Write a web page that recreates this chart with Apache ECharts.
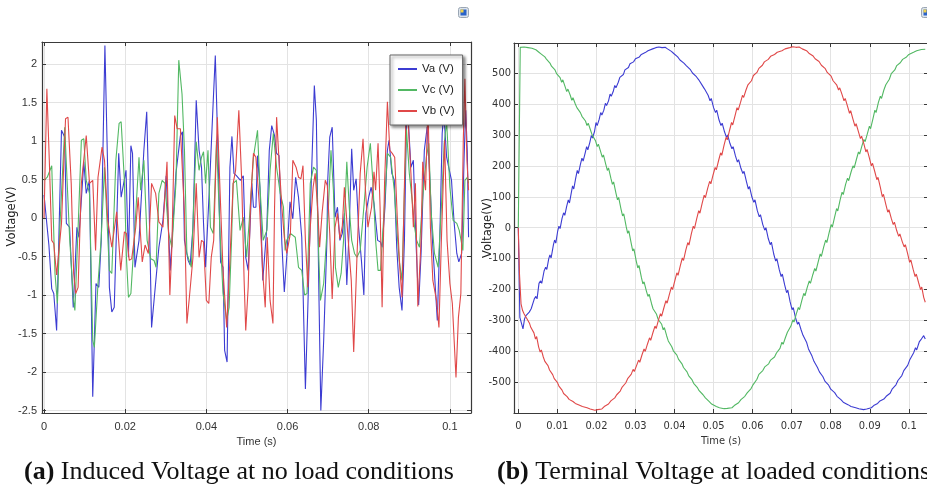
<!DOCTYPE html>
<html>
<head>
<meta charset="utf-8">
<script src="https://cdn.jsdelivr.net/npm/echarts@6/dist/echarts.min.js"></script>
<style>
  html, body { margin: 0; padding: 0; background: #fff; }
  #main { width: 927px; height: 500px; }
</style>
</head>
<body>
<div id="main"></div>
<script>
// (a) induced voltage at no load, [time (s), voltage (V)]
const vaNoLoad = [[0,0.3],[0.0012,-0.35],[0.0019,-0.92],[0.0024,-0.98],[0.0031,-1.46],[0.0043,1.14],[0.0051,1.05],[0.0055,-0.07],[0.0063,-0.12],[0.0072,-1.16],[0.0081,-0.12],[0.0086,-0.25],[0.0098,0.73],[0.0104,0.32],[0.0112,0.49],[0.012,-2.32],[0.0128,-0.85],[0.0135,-0.9],[0.0141,-0.29],[0.015,2.24],[0.0157,0.58],[0.0161,-0.9],[0.0167,-1.22],[0.0173,-1.16],[0.0184,0.84],[0.019,0.27],[0.0202,0.62],[0.0208,-0.51],[0.0214,0.94],[0.0218,0.84],[0.0224,-0.64],[0.0234,-0.29],[0.0246,0.88],[0.0253,1.38],[0.0259,0.14],[0.0265,-1.42],[0.0283,-0.38],[0.0293,-0.03],[0.0301,0.55],[0.0311,-0.68],[0.0325,0.58],[0.0336,1.07],[0.0341,1.12],[0.0346,-0.29],[0.0355,-0.55],[0.036,-0.61],[0.0367,-0.12],[0.0375,1.53],[0.0382,0.88],[0.0388,0.66],[0.0393,-0.07],[0.0398,-0.64],[0.0408,0.45],[0.0417,1.53],[0.0422,2.11],[0.0429,0.79],[0.0435,-0.57],[0.0441,-0.64],[0.0445,-1.72],[0.0451,-1.87],[0.0458,0.66],[0.0463,1.06],[0.0468,0.58],[0.0474,0.55],[0.0484,0.49],[0.0491,0.55],[0.0497,-0.51],[0.0503,-0.68],[0.0512,0.45],[0.0516,0.14],[0.0522,0.14],[0.0526,0.81],[0.0532,0.4],[0.0539,-0.81],[0.0549,-0.12],[0.0555,0.88],[0.0561,1.2],[0.0568,1.07],[0.0573,0.84],[0.0579,0.81],[0.0586,-0.33],[0.0592,-0.96],[0.0598,-0.51],[0.0606,0.21],[0.0613,-0.01],[0.062,0.53],[0.0627,0.27],[0.0635,-0.25],[0.0644,-2.22],[0.065,-1.16],[0.0658,0.38],[0.0666,1.72],[0.0671,1.27],[0.0677,-0.9],[0.0682,-2.5],[0.0689,-1.59],[0.0697,-0.29],[0.0699,0.49],[0.0704,1.05],[0.071,1.18],[0.0717,0.01],[0.0723,0.14],[0.0729,-0.29],[0.0735,-0.2],[0.074,0.06],[0.0746,-0.87],[0.0752,-0.12],[0.0758,0.9],[0.0763,0.36],[0.0769,0.51],[0.0775,-0.12],[0.0782,-0.55],[0.0788,-1.0],[0.0793,0.06],[0.08,0.27],[0.0806,0.4],[0.0813,0.19],[0.0817,0.21],[0.0822,-0.29],[0.0829,-0.31],[0.0833,-0.38],[0.084,0.14],[0.0846,0.88],[0.085,1.01],[0.0857,0.58],[0.0863,0.49],[0.0869,-0.38],[0.0875,-0.9],[0.0882,-1.2],[0.0888,-0.29],[0.0894,1.6],[0.0904,0.66],[0.091,0.75],[0.0917,-0.38],[0.0923,-1.13],[0.0929,-0.46],[0.0937,0.88],[0.0944,1.18],[0.095,0.58],[0.0957,-0.29],[0.0962,-0.72],[0.0969,-1.33],[0.0975,-0.29],[0.0981,1.1],[0.0985,1.36],[0.0992,0.79],[0.0997,0.66],[0.1004,0.49],[0.101,-0.03],[0.1017,-0.46],[0.1022,-0.57],[0.1029,-0.46],[0.1035,0.79],[0.1039,1.4],[0.1043,0.84],[0.1046,-0.25]];
const vcNoLoad = [[0,0.49],[0.0008,0.53],[0.0019,0.68],[0.0027,-0.72],[0.0033,-1.11],[0.0039,-0.12],[0.0051,1.18],[0.0063,-0.25],[0.0072,-1.03],[0.0076,-1.2],[0.0084,-0.12],[0.0092,1.01],[0.0098,1.03],[0.0104,0.49],[0.0112,0.32],[0.012,-1.59],[0.0124,-1.68],[0.0133,-0.85],[0.0141,-0.25],[0.0149,0.66],[0.0161,-0.68],[0.0167,-0.72],[0.0177,0.75],[0.0185,1.23],[0.019,1.25],[0.0198,0.49],[0.0203,-0.51],[0.0208,-1.03],[0.0214,-0.98],[0.0224,-0.12],[0.0234,0.79],[0.0238,0.36],[0.0246,0.75],[0.0254,-0.29],[0.0263,-0.53],[0.0271,-0.55],[0.0276,-0.64],[0.0283,0.32],[0.0291,0.49],[0.0298,0.45],[0.0307,-0.2],[0.0315,-0.38],[0.0325,0.45],[0.0332,2.05],[0.034,1.61],[0.0346,0.88],[0.0352,-0.46],[0.0363,-0.64],[0.0371,0.49],[0.0375,0.99],[0.0382,0.62],[0.0388,0.79],[0.0393,0.86],[0.0398,0.45],[0.0404,0.88],[0.041,-0.12],[0.0417,-0.2],[0.0425,1.01],[0.0433,-0.12],[0.0441,-0.98],[0.045,-1.33],[0.0456,-1.16],[0.0462,-0.29],[0.0466,0.45],[0.0474,0.49],[0.0483,-0.16],[0.0491,0.01],[0.0499,-0.51],[0.0507,0.06],[0.0516,0.79],[0.0526,1.14],[0.0532,0.4],[0.054,-0.29],[0.0549,-0.16],[0.0557,0.62],[0.0565,1.1],[0.0573,0.66],[0.0582,0.32],[0.059,0.14],[0.0594,-0.42],[0.0598,-0.29],[0.0607,-0.2],[0.0619,-0.25],[0.0627,-0.64],[0.0635,-0.68],[0.0642,-1.0],[0.0648,-0.98],[0.0656,0.45],[0.0664,0.66],[0.0671,0.62],[0.0677,-0.51],[0.0681,-1.07],[0.0689,-0.85],[0.07,0.06],[0.0707,0.88],[0.0713,0.36],[0.0718,-0.64],[0.0725,-0.9],[0.0732,-0.72],[0.0738,-0.29],[0.0746,0.73],[0.0752,0.14],[0.0758,-0.29],[0.0765,-0.46],[0.0771,-0.51],[0.0779,-0.42],[0.0788,0.14],[0.0796,0.66],[0.0804,0.97],[0.081,0.49],[0.0817,-0.29],[0.0823,-0.68],[0.0829,-0.68],[0.0838,0.1],[0.0846,0.84],[0.0854,0.79],[0.0863,0.36],[0.0869,-0.12],[0.0875,-0.55],[0.0882,-0.81],[0.0888,0.36],[0.0893,1.15],[0.09,0.58],[0.0907,0.23],[0.0913,-0.12],[0.0918,-0.29],[0.0925,-0.38],[0.0933,0.27],[0.0942,0.79],[0.0948,0.97],[0.0954,0.06],[0.0962,-0.46],[0.0971,-0.64],[0.0979,0.14],[0.0986,0.97],[0.0992,1.25],[0.1,0.4],[0.1008,-0.03],[0.1017,-0.07],[0.1023,-0.16],[0.1032,-0.42],[0.1037,0.49],[0.1043,0.53],[0.1046,0.45]];
const vbNoLoad = [[0,0],[0.0007,1.68],[0.0013,0.75],[0.0019,-0.29],[0.0024,-0.33],[0.0031,-0.74],[0.0035,-0.72],[0.0043,-0.07],[0.0053,1.29],[0.0059,1.31],[0.0067,0.45],[0.0073,-0.72],[0.0078,-0.98],[0.0084,-0.9],[0.0092,0.45],[0.0104,1.07],[0.0112,0.45],[0.012,0.49],[0.0127,-0.42],[0.0133,0.53],[0.0143,0.92],[0.0149,0.75],[0.0157,-0.03],[0.0167,-0.38],[0.0179,0.08],[0.0189,-0.68],[0.0198,-0.18],[0.0203,-0.2],[0.021,-0.55],[0.0216,-0.53],[0.0226,-0.12],[0.0232,0.27],[0.0242,-0.57],[0.0249,-0.35],[0.0257,-0.46],[0.0265,0.45],[0.0275,0.32],[0.0283,-0.05],[0.0293,-0.12],[0.0303,0.73],[0.031,-1.0],[0.0315,-0.38],[0.0322,1.33],[0.0328,1.16],[0.0336,1.16],[0.0346,0.06],[0.0352,-1.37],[0.0359,-0.98],[0.0367,-0.51],[0.0375,0.45],[0.0382,-0.51],[0.0388,-0.29],[0.0393,-0.31],[0.04,-1.07],[0.0406,-1.11],[0.0412,-0.51],[0.0418,-0.29],[0.0427,1.31],[0.0433,0.45],[0.0441,-0.68],[0.045,-1.42],[0.0458,-0.55],[0.0466,0.45],[0.0472,0.62],[0.048,1.4],[0.0487,0.49],[0.0493,-0.81],[0.0497,-1.46],[0.0503,-0.9],[0.0509,0.23],[0.0516,0.84],[0.0522,0.79],[0.0531,0.14],[0.0539,-0.72],[0.0545,-1.16],[0.055,-0.25],[0.0557,-1.07],[0.0564,-1.37],[0.0568,0.14],[0.0573,1.31],[0.0579,0.75],[0.0586,0.14],[0.0592,-0.25],[0.0598,-0.46],[0.0607,-0.2],[0.0613,0.75],[0.0621,0.66],[0.0627,0.53],[0.0633,0.51],[0.0638,0.68],[0.0644,-0.29],[0.065,-0.9],[0.0656,-0.12],[0.0663,0.4],[0.0668,0.58],[0.0674,0.14],[0.0679,-0.38],[0.0685,0.06],[0.0693,0.49],[0.0698,0.42],[0.0704,-0.2],[0.071,-1.05],[0.0717,-0.12],[0.0723,0.06],[0.0729,-0.27],[0.0735,-0.1],[0.074,0.4],[0.0748,-0.18],[0.0757,-0.81],[0.0763,-1.74],[0.0771,-0.51],[0.0779,0.58],[0.0786,1.03],[0.0792,0.36],[0.0798,-0.12],[0.0807,0.14],[0.0813,0.6],[0.0817,0.36],[0.0823,0.97],[0.0828,0.14],[0.0833,-1.16],[0.0839,0.45],[0.0846,1.51],[0.0852,0.88],[0.0858,0.84],[0.0864,0.79],[0.0871,-0.07],[0.0877,-0.68],[0.0882,-1.03],[0.0885,-0.29],[0.0893,1.65],[0.0904,0.58],[0.091,-0.12],[0.0915,0.45],[0.0921,-1.15],[0.0929,-0.29],[0.0933,0.73],[0.094,0.36],[0.0946,1.5],[0.0952,-0.12],[0.0958,-0.81],[0.0967,-1.07],[0.0973,-1.42],[0.0979,-0.29],[0.0987,1.01],[0.0993,-0.29],[0.1,-0.85],[0.1006,-1.11],[0.1015,-2.07],[0.1021,-1.29],[0.1027,-0.98],[0.1033,1.01],[0.1037,1.81],[0.1042,0.75],[0.1046,0.36]];

// (b) terminal voltage under load, [time (s), voltage (V)]
const vaLoaded = [[0,0],[0.0004,-290],[0.0012,-327],[0.0016,-295],[0.0019,-285],[0.0022,-290],[0.0028,-273],[0.0033,-262],[0.0036,-268],[0.0041,-230],[0.0045,-222],[0.0048,-230],[0.0053,-180],[0.0057,-172],[0.006,-180],[0.0066,-140],[0.007,-128],[0.0073,-135],[0.0078,-100],[0.0081,-88],[0.0084,-98],[0.009,-55],[0.0093,-40],[0.0096,-50],[0.0101,-10],[0.0104,5],[0.0107,-3],[0.0112,30],[0.0116,48],[0.0119,40],[0.0124,70],[0.0128,90],[0.0131,80],[0.0136,115],[0.0139,135],[0.0142,125],[0.0147,160],[0.0151,185],[0.0154,175],[0.0159,205],[0.0163,225],[0.0166,215],[0.0171,240],[0.0175,262],[0.0178,252],[0.0183,275],[0.0187,298],[0.019,290],[0.0195,310],[0.0199,340],[0.0202,330],[0.0207,350],[0.0211,372],[0.0214,364],[0.0219,380],[0.0223,402],[0.0226,395],[0.0231,410],[0.0235,432],[0.0238,425],[0.0243,440],[0.0247,460],[0.025,452],[0.0256,470],[0.026,486],[0.0263,480],[0.0269,495],[0.0273,510],[0.0276,504],[0.0282,518],[0.0286,530],[0.0289,524],[0.0295,536],[0.03,546],[0.0303,541],[0.031,552],[0.0315,560],[0.0318,556],[0.0325,566],[0.0332,572],[0.0336,569],[0.0344,578],[0.0352,582],[0.036,584],[0.0368,582],[0.0376,583],[0.0382,578],[0.0386,580],[0.0392,570],[0.0398,563],[0.0401,566],[0.0408,552],[0.0414,542],[0.0417,546],[0.0424,532],[0.043,524],[0.0433,528],[0.044,512],[0.0446,500],[0.0449,505],[0.0456,488],[0.0462,478],[0.0465,482],[0.0471,460],[0.0477,448],[0.048,454],[0.0486,428],[0.0491,410],[0.0494,418],[0.05,388],[0.0505,372],[0.0508,380],[0.0514,348],[0.0519,330],[0.0522,338],[0.0528,310],[0.0533,292],[0.0536,300],[0.0542,272],[0.0547,255],[0.055,262],[0.0556,232],[0.0561,212],[0.0564,220],[0.057,192],[0.0575,175],[0.0578,182],[0.0584,150],[0.0589,125],[0.0592,133],[0.0598,100],[0.0603,82],[0.0606,90],[0.0612,55],[0.0617,35],[0.062,42],[0.0626,10],[0.0631,-8],[0.0634,0],[0.064,-35],[0.0645,-55],[0.0648,-47],[0.0654,-85],[0.0659,-108],[0.0662,-100],[0.0668,-135],[0.0673,-158],[0.0676,-150],[0.0682,-185],[0.0687,-210],[0.069,-202],[0.0696,-240],[0.0701,-265],[0.0704,-258],[0.071,-292],[0.0715,-312],[0.0718,-305],[0.0724,-330],[0.0729,-348],[0.0732,-342],[0.0738,-370],[0.0743,-392],[0.0746,-386],[0.0752,-415],[0.0757,-432],[0.076,-426],[0.0766,-452],[0.0771,-466],[0.0774,-460],[0.078,-482],[0.0785,-496],[0.0788,-491],[0.0794,-508],[0.08,-522],[0.0803,-517],[0.081,-533],[0.0816,-545],[0.0819,-540],[0.0826,-556],[0.0832,-564],[0.0836,-560],[0.0844,-572],[0.0852,-578],[0.0856,-575],[0.0864,-582],[0.0872,-585],[0.0876,-581],[0.0884,-588],[0.0892,-586],[0.0896,-581],[0.0904,-582],[0.091,-575],[0.0914,-578],[0.092,-568],[0.0926,-560],[0.0929,-565],[0.0936,-554],[0.0942,-545],[0.0945,-550],[0.0952,-535],[0.0957,-522],[0.096,-528],[0.0967,-508],[0.0972,-494],[0.0975,-500],[0.0982,-478],[0.0987,-462],[0.099,-468],[0.0997,-445],[0.1002,-428],[0.1005,-434],[0.1012,-405],[0.1017,-388],[0.102,-395],[0.1027,-368],[0.1032,-360],[0.1035,-362],[0.1038,-349],[0.1042,-360]];
const vcLoaded = [[0,0],[0.0005,583],[0.0015,584],[0.0025,582],[0.0035,580],[0.0045,575],[0.0052,568],[0.0058,562],[0.0062,565],[0.0068,552],[0.0072,545],[0.0075,548],[0.0081,532],[0.0085,522],[0.0088,528],[0.0094,510],[0.0098,498],[0.0101,504],[0.0107,485],[0.0111,470],[0.0114,478],[0.012,455],[0.0124,440],[0.0127,448],[0.0133,428],[0.0137,412],[0.014,420],[0.0146,400],[0.015,388],[0.0153,393],[0.0159,372],[0.0163,360],[0.0166,366],[0.0172,345],[0.0176,330],[0.0179,338],[0.0185,315],[0.0189,300],[0.0192,306],[0.0198,280],[0.0202,262],[0.0205,270],[0.0211,245],[0.0215,228],[0.0218,235],[0.0224,205],[0.0228,185],[0.0231,193],[0.0237,160],[0.0241,140],[0.0244,148],[0.025,112],[0.0254,90],[0.0257,98],[0.0263,60],[0.0267,38],[0.027,45],[0.0276,5],[0.028,-18],[0.0283,-10],[0.0289,-50],[0.0293,-75],[0.0296,-68],[0.0302,-108],[0.0306,-130],[0.0309,-122],[0.0315,-160],[0.0319,-182],[0.0322,-175],[0.0328,-205],[0.0332,-222],[0.0335,-215],[0.0341,-245],[0.0345,-262],[0.0348,-256],[0.0354,-280],[0.0358,-296],[0.0361,-290],[0.0367,-312],[0.0371,-330],[0.0374,-323],[0.038,-350],[0.0384,-366],[0.0387,-360],[0.0393,-385],[0.0397,-398],[0.04,-392],[0.0406,-412],[0.041,-425],[0.0413,-419],[0.0419,-440],[0.0423,-452],[0.0426,-447],[0.0432,-466],[0.0436,-478],[0.0439,-473],[0.0445,-492],[0.0449,-503],[0.0452,-498],[0.0458,-516],[0.0463,-527],[0.0466,-522],[0.0473,-540],[0.0479,-550],[0.0482,-546],[0.0489,-562],[0.0495,-570],[0.0499,-566],[0.0507,-578],[0.0515,-582],[0.0519,-579],[0.0527,-585],[0.0535,-584],[0.0539,-580],[0.0547,-582],[0.0553,-575],[0.0557,-578],[0.0564,-566],[0.057,-556],[0.0573,-560],[0.058,-545],[0.0586,-534],[0.0589,-538],[0.0596,-520],[0.0601,-508],[0.0604,-513],[0.0611,-490],[0.0616,-474],[0.0619,-480],[0.0626,-462],[0.0631,-450],[0.0634,-456],[0.0641,-440],[0.0646,-428],[0.0649,-434],[0.0656,-418],[0.0661,-405],[0.0664,-410],[0.067,-390],[0.0675,-370],[0.0678,-377],[0.0684,-355],[0.0689,-338],[0.0692,-344],[0.0698,-318],[0.0703,-298],[0.0706,-305],[0.0712,-278],[0.0717,-258],[0.072,-265],[0.0726,-235],[0.0731,-212],[0.0734,-220],[0.074,-192],[0.0745,-172],[0.0748,-180],[0.0754,-152],[0.0759,-132],[0.0762,-140],[0.0768,-110],[0.0773,-85],[0.0776,-93],[0.0782,-62],[0.0787,-40],[0.079,-48],[0.0796,-15],[0.0801,10],[0.0804,2],[0.081,35],[0.0815,62],[0.0818,54],[0.0824,90],[0.0829,115],[0.0832,107],[0.0838,140],[0.0843,160],[0.0846,152],[0.0852,180],[0.0857,200],[0.086,193],[0.0866,222],[0.0871,245],[0.0874,238],[0.088,265],[0.0885,285],[0.0888,278],[0.0894,305],[0.0899,328],[0.0902,320],[0.0908,352],[0.0913,380],[0.0916,372],[0.0922,405],[0.0927,425],[0.093,418],[0.0936,445],[0.0941,462],[0.0944,456],[0.095,480],[0.0955,498],[0.0958,492],[0.0964,510],[0.0969,524],[0.0972,519],[0.0978,533],[0.0984,544],[0.0987,540],[0.0994,552],[0.1,560],[0.1004,557],[0.1012,567],[0.102,572],[0.1024,570],[0.1032,576],[0.1042,577]];
const vbLoaded = [[0,0],[0.0003,-149],[0.0007,-246],[0.0011,-268],[0.0015,-279],[0.0021,-292],[0.0024,-286],[0.0029,-310],[0.0032,-322],[0.0035,-316],[0.004,-340],[0.0044,-360],[0.0047,-352],[0.0052,-385],[0.0056,-402],[0.0059,-395],[0.0064,-418],[0.0068,-432],[0.0071,-426],[0.0076,-446],[0.008,-460],[0.0083,-455],[0.0088,-475],[0.0092,-488],[0.0095,-482],[0.01,-500],[0.0104,-512],[0.0107,-507],[0.0112,-525],[0.0116,-536],[0.0119,-531],[0.0125,-546],[0.013,-555],[0.0133,-551],[0.014,-562],[0.0146,-568],[0.015,-565],[0.0157,-574],[0.0164,-578],[0.0168,-575],[0.0176,-582],[0.0184,-586],[0.0188,-583],[0.0196,-590],[0.0203,-588],[0.0207,-584],[0.0214,-586],[0.022,-578],[0.0224,-581],[0.0231,-570],[0.0237,-560],[0.024,-564],[0.0247,-550],[0.0252,-540],[0.0255,-545],[0.0261,-528],[0.0266,-515],[0.0269,-520],[0.0275,-502],[0.028,-488],[0.0283,-494],[0.0289,-474],[0.0294,-458],[0.0297,-465],[0.0303,-445],[0.0308,-428],[0.0311,-435],[0.0317,-410],[0.0322,-392],[0.0325,-400],[0.0331,-375],[0.0336,-356],[0.0339,-364],[0.0345,-338],[0.035,-318],[0.0353,-326],[0.0359,-298],[0.0364,-278],[0.0367,-286],[0.0373,-258],[0.0378,-236],[0.0381,-244],[0.0387,-215],[0.0392,-192],[0.0395,-200],[0.0401,-170],[0.0406,-146],[0.0409,-154],[0.0415,-122],[0.042,-98],[0.0423,-106],[0.0429,-72],[0.0434,-48],[0.0437,-56],[0.0443,-20],[0.0448,5],[0.0451,-3],[0.0457,30],[0.0462,55],[0.0465,47],[0.0471,80],[0.0476,105],[0.0479,97],[0.0485,128],[0.049,150],[0.0493,142],[0.0499,172],[0.0504,195],[0.0507,187],[0.0513,218],[0.0518,242],[0.0521,234],[0.0527,268],[0.0532,292],[0.0535,284],[0.0541,315],[0.0546,340],[0.0549,332],[0.0555,362],[0.056,388],[0.0563,380],[0.0569,405],[0.0574,428],[0.0577,421],[0.0583,445],[0.0588,462],[0.0591,456],[0.0597,475],[0.0602,492],[0.0605,486],[0.0611,502],[0.0616,515],[0.0619,510],[0.0625,525],[0.063,536],[0.0633,531],[0.064,544],[0.0646,554],[0.0649,550],[0.0656,560],[0.0663,567],[0.0667,564],[0.0675,572],[0.0683,578],[0.0687,576],[0.0695,582],[0.0703,585],[0.0711,583],[0.0719,584],[0.0727,578],[0.0731,580],[0.0738,572],[0.0744,564],[0.0747,567],[0.0754,556],[0.076,546],[0.0763,550],[0.077,537],[0.0776,525],[0.0779,530],[0.0786,514],[0.0791,502],[0.0794,507],[0.0801,490],[0.0806,475],[0.0809,481],[0.0815,462],[0.082,445],[0.0823,452],[0.0829,430],[0.0834,410],[0.0837,418],[0.0843,392],[0.0848,370],[0.0851,378],[0.0857,350],[0.0862,328],[0.0865,336],[0.0871,310],[0.0876,288],[0.0879,296],[0.0885,270],[0.089,245],[0.0893,253],[0.0899,225],[0.0904,200],[0.0907,208],[0.0913,180],[0.0918,155],[0.0921,163],[0.0927,130],[0.0932,100],[0.0935,108],[0.0941,75],[0.0946,50],[0.0949,58],[0.0955,30],[0.096,10],[0.0963,18],[0.0969,-10],[0.0974,-28],[0.0977,-20],[0.0983,-45],[0.0988,-62],[0.0991,-55],[0.0997,-85],[0.1002,-112],[0.1005,-104],[0.1011,-135],[0.1016,-158],[0.1019,-150],[0.1025,-178],[0.103,-200],[0.1033,-192],[0.1038,-225],[0.1042,-241]];

const seriesNames = ['Va (V)', 'Vc (V)', 'Vb (V)'];
const lineColors = ['#3c3cd2', '#52b863', '#e04848'];
const captionTags = ['(a)', '(b)'];
const captionTexts = ['Induced Voltage at no load conditions', 'Terminal Voltage at loaded conditions'];

var myChart = echarts.init(document.getElementById('main'));

var frameColor = '#3a3a3a';
var labelColor = '#333';
var fontA = 'Liberation Sans, Arial, sans-serif';
var fontB = 'Liberation Sans Narrow, DejaVu Sans Condensed, Arial Narrow, sans-serif';

// one axis of a boxed frame; the 2nd copy (top/right) only draws ticks
function frameAxis(gridIndex, pos, min, max, split, font, main) {
  return {
    type: 'value',
    gridIndex: gridIndex,
    position: pos,
    min: min,
    max: max,
    splitNumber: split,
    axisLine: { show: true, onZero: false, lineStyle: { color: frameColor, width: 1.2 } },
    axisTick: { show: true, inside: true, length: 4, lineStyle: { color: frameColor } },
    axisLabel: {
      show: main,
      showMinLabel: false,
      showMaxLabel: false,
      color: labelColor,
      fontFamily: font,
      fontSize: 11,
      margin: (pos === 'left') ? 5 : 8
    },
    splitLine: { show: main, lineStyle: { color: '#e3e3e3', width: 1 } }
  };
}

var xA = frameAxis(0, 'bottom', -0.0005, 0.1052, 5, fontA, true);
xA.name = 'Time (s)';
xA.nameLocation = 'middle';
xA.nameGap = 23;
xA.nameMoveOverlap = false;
xA.nameTextStyle = { color: labelColor, fontFamily: fontA, fontSize: 11 };
var xB = frameAxis(1, 'bottom', -0.0011, 0.1049, 10, fontB, true);
xB.name = 'Time (s)';
xB.nameLocation = 'middle';
xB.nameGap = 23;
xB.nameMoveOverlap = false;
xB.nameTextStyle = { color: labelColor, fontFamily: fontB, fontSize: 11 };

var yA = frameAxis(0, 'left', -2.532, 2.286, 9, fontA, true);
yA.name = 'Voltage(V)';
yA.nameLocation = 'middle';
yA.nameGap = 24;
yA.nameMoveOverlap = false;
yA.nameTextStyle = { color: '#222', fontFamily: 'DejaVu Sans, sans-serif', fontSize: 11.5, padding: [0, 0, 0, 22] };
var yB = frameAxis(1, 'left', -599, 597, 10, fontB, true);
yB.name = 'Voltage(V)';
yB.nameLocation = 'middle';
yB.nameGap = 20;
yB.nameMoveOverlap = false;
yB.nameTextStyle = { color: '#222', fontFamily: 'DejaVu Sans, sans-serif', fontSize: 11.5 };
yB.axisLabel.margin = 3;

function lineSeries(name, data, color, xi, yi) {
  return {
    name: name,
    type: 'line',
    xAxisIndex: xi,
    yAxisIndex: yi,
    data: data,
    showSymbol: false,
    symbol: 'none',
    lineStyle: { color: color, width: 1.1 },
    itemStyle: { color: color },
    emphasis: { disabled: true }
  };
}

// small window icon in each panel's top-right corner
function cornerIcon(x) {
  return {
    type: 'group',
    left: x,
    top: 7,
    children: [
      { type: 'rect', shape: { x: 0, y: 0, width: 10, height: 10, r: 2 }, style: { fill: '#dde4ec', stroke: '#9aa6b4', lineWidth: 1 } },
      { type: 'rect', shape: { x: 2, y: 2, width: 6, height: 6 }, style: { fill: '#2a63c9' } },
      { type: 'rect', shape: { x: 2, y: 2, width: 3, height: 3 }, style: { fill: '#f2d34a' } }
    ]
  };
}

function caption(i, x) {
  return {
    left: x,
    top: 459,
    padding: 0,
    text: '{b|' + captionTags[i] + '} ' + captionTexts[i],
    textStyle: {
      fontFamily: 'Liberation Serif, Times New Roman, serif',
      fontSize: 26,
      fontWeight: 'normal',
      color: '#111',
      rich: {
        b: { fontFamily: 'Liberation Serif, Times New Roman, serif', fontSize: 26, fontWeight: 'bold', color: '#111' }
      }
    }
  };
}

myChart.setOption({
  animation: false,
  backgroundColor: '#fff',
  title: [caption(0, 24), caption(1, 497)],
  grid: [
    { left: 42, top: 42, width: 429, height: 371, outerBoundsMode: 'none' },
    { left: 514, top: 43, width: 414, height: 370, outerBoundsMode: 'none' }
  ],
  legend: {
    data: seriesNames,
    orient: 'vertical',
    left: 390,
    top: 55,
    width: 70,
    padding: [8, 8, 8, 8],
    itemGap: 9,
    itemWidth: 19,
    itemHeight: 2,
    icon: 'rect',
    backgroundColor: '#fff',
    borderColor: '#666',
    borderWidth: 1,
    shadowColor: 'rgba(0,0,0,0.45)',
    shadowBlur: 3,
    shadowOffsetX: 2,
    shadowOffsetY: 2,
    selectedMode: false,
    textStyle: { color: '#222', fontFamily: fontA, fontSize: 11.5 }
  },
  xAxis: [
    xA,
    frameAxis(0, 'top', -0.0005, 0.1052, 5, fontA, false),
    xB,
    frameAxis(1, 'top', -0.0011, 0.1049, 10, fontB, false)
  ],
  yAxis: [
    yA,
    frameAxis(0, 'right', -2.532, 2.286, 9, fontA, false),
    yB,
    frameAxis(1, 'right', -599, 597, 10, fontB, false)
  ],
  series: [
    lineSeries(seriesNames[0], vaNoLoad, lineColors[0], 0, 0),
    lineSeries(seriesNames[1], vcNoLoad, lineColors[1], 0, 0),
    lineSeries(seriesNames[2], vbNoLoad, lineColors[2], 0, 0),
    lineSeries(seriesNames[0], vaLoaded, lineColors[0], 2, 2),
    lineSeries(seriesNames[1], vcLoaded, lineColors[1], 2, 2),
    lineSeries(seriesNames[2], vbLoaded, lineColors[2], 2, 2)
  ],
  graphic: [cornerIcon(458), cornerIcon(921)]
});

window.addEventListener('resize', function () {
  myChart.resize();
});
</script>
</body>
</html>
